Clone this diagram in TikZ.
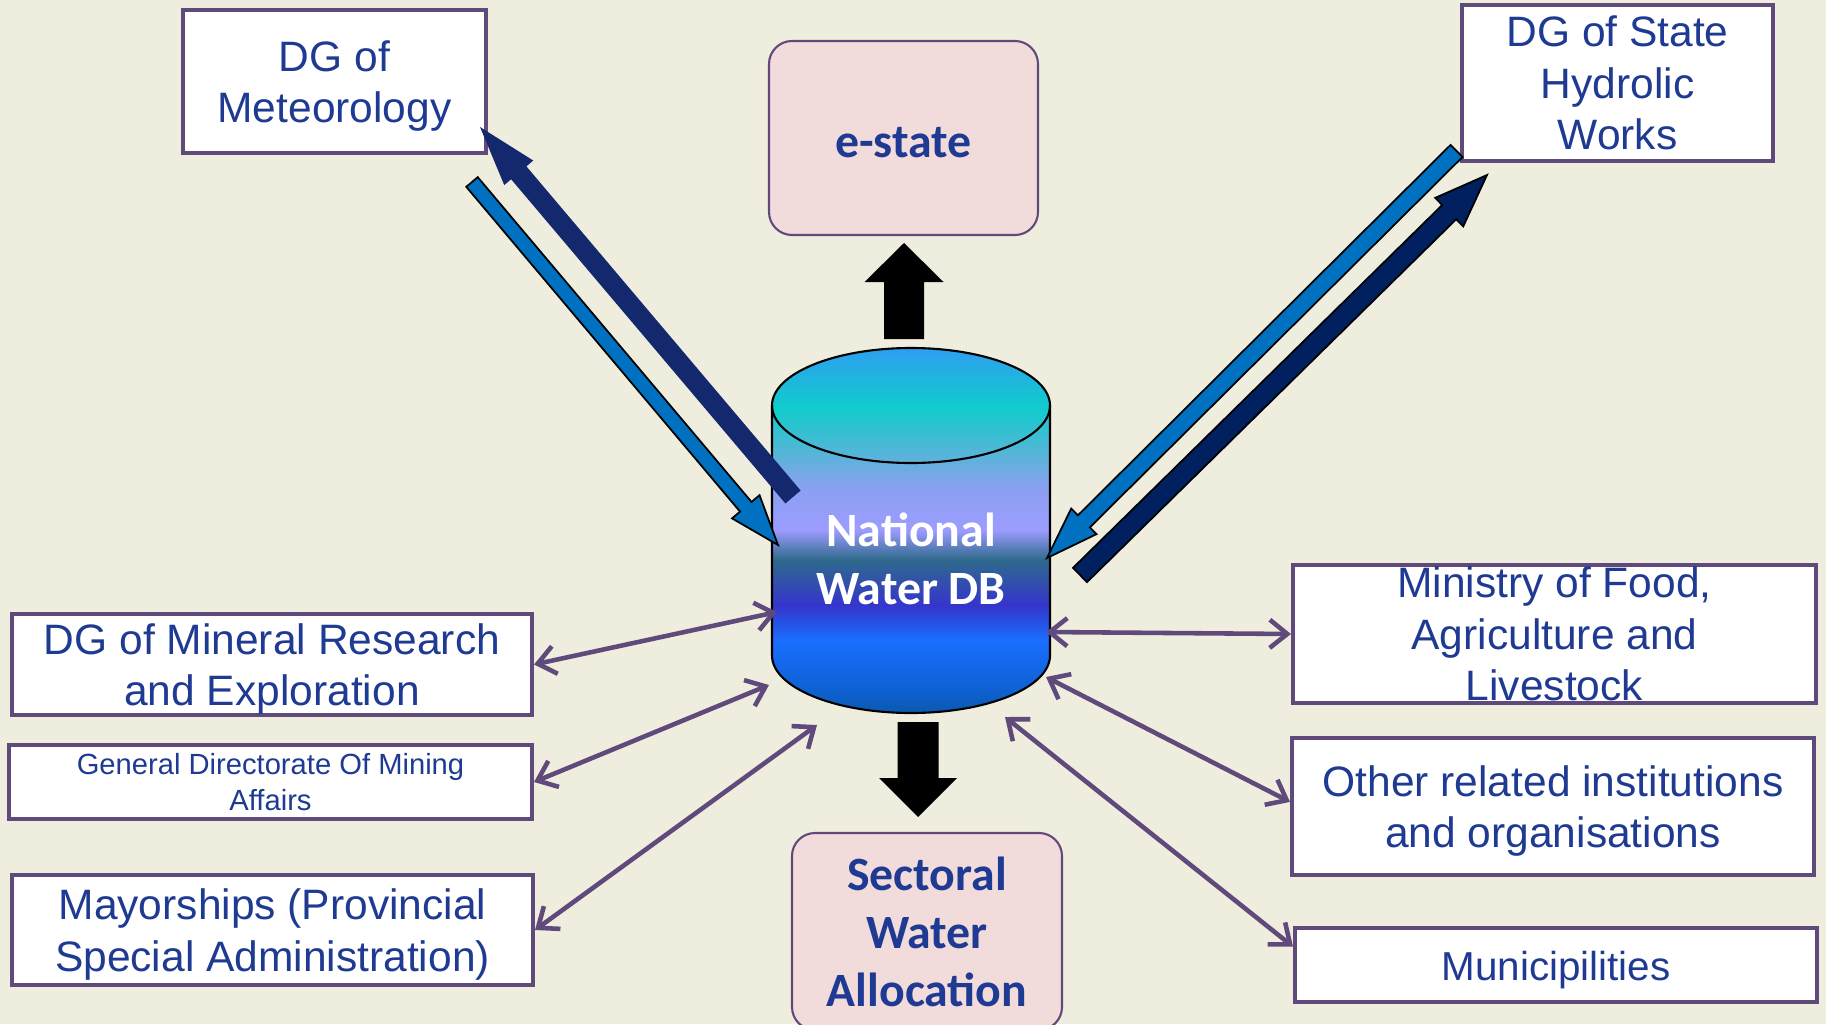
\documentclass[tikz,border=0pt]{standalone}
\usepackage{fontspec}
\setmainfont{Liberation Sans}
\newfontfamily\calibri{Carlito}
\usetikzlibrary{calc,arrows.meta}

\definecolor{bgcol}{RGB}{239,238,222}
\definecolor{boxpurple}{RGB}{96,74,123}
\definecolor{textblue}{RGB}{30,58,146}
\definecolor{outpink}{RGB}{242,220,219}
\definecolor{arrowblue}{RGB}{0,112,192}
\definecolor{arrownavy}{RGB}{0,32,96}
\definecolor{arrowsoft}{RGB}{20,40,110}

% colours of the database drum, bottom to top
\definecolor{dbA}{RGB}{10,90,176}
\definecolor{dbB}{RGB}{15,98,214}
\definecolor{dbC}{RGB}{26,110,255}
\definecolor{dbD}{RGB}{53,53,204}
\definecolor{dbE}{RGB}{47,106,140}
\definecolor{dbF}{RGB}{156,156,255}
\definecolor{dbG}{RGB}{138,160,240}
\definecolor{dbH}{RGB}{85,181,216}
\definecolor{dbI}{RGB}{16,204,204}
\definecolor{dbJ}{RGB}{46,158,240}
\pgfdeclareverticalshading{dbshade}{100bp}{color(0bp)=(dbA); color(25bp)=(dbA);
  color(28.6bp)=(dbB); color(35bp)=(dbC); color(39.8bp)=(dbD); color(46bp)=(dbE);
  color(50.1bp)=(dbF); color(56bp)=(dbG); color(60.6bp)=(dbH); color(66.9bp)=(dbI);
  color(75bp)=(dbJ); color(100bp)=(dbJ)}

% fat arrow: style, from, to, half shaft, half head, head length
\newcommand\bigarrow[6]{%
  \path[#1] ($(#2)!#4!90:(#3)$)
    -- ($(#3)!#6!(#2)!#4!-90:(#2)$)
    -- ($(#3)!#6!(#2)!#5!-90:(#2)$)
    -- (#3)
    -- ($(#3)!#6!(#2)!#5!90:(#2)$)
    -- ($(#3)!#6!(#2)!#4!90:(#2)$)
    -- ($(#2)!#4!-90:(#3)$) -- cycle;}
% taller first line, so the text sits a little lower in its box
\newcommand\lift{\rule{0pt}{11.4pt}}

\begin{document}
\begin{tikzpicture}[x=0.1mm,y=-0.1mm]
\tikzstyle{orgbox}=[draw=boxpurple,line width=1.15pt,fill=white,text=textblue,
  align=center,inner sep=0pt,font=\fontsize{12.1}{14.6}\selectfont]
\tikzstyle{outbox}=[draw=boxpurple,line width=0.6pt,fill=outpink,rounded corners=2.3mm,
  text=textblue,align=center,inner sep=0pt,
  font=\calibri\bfseries\fontsize{13.6}{16.5}\selectfont]
\tikzstyle{link}=[draw=boxpurple,line width=1.3pt,
  {Straight Barb[length=5pt,width=8pt]}-{Straight Barb[length=5pt,width=8pt]}]
\tikzstyle{navyout}=[fill=arrowsoft]
\tikzstyle{navyin}=[fill=arrownavy,draw=black,line width=0.5pt]
\tikzstyle{bluein}=[fill=arrowblue,draw=black,line width=0.5pt]

\useasboundingbox (0,0) rectangle (1826,1024);
\fill[bgcol] (0,0) rectangle (1826,1024);

%% sources and targets
\node[orgbox,minimum width=30.3mm,minimum height=14.3mm] (meteo) at (334.5,81.5)
  {\lift DG of\\Meteorology};
\node[orgbox,minimum width=31.1mm,minimum height=15.6mm] (hydro) at (1617.5,83)
  {DG of State\\Hydrolic\\Works};
\node[outbox,minimum width=26.9mm,minimum height=19.4mm] (estate) at (903.5,138)
  {\rule{0pt}{11pt}e-state};
\node[outbox,minimum width=27mm,minimum height=19.7mm] (sector) at (927,931.5)
  {Sectoral\\Water\\Allocation};

\node[orgbox,minimum width=52mm,minimum height=10.1mm] (mineral) at (272,664.5)
  {\lift DG of Mineral Research\\and Exploration};
\node[orgbox,minimum width=52.3mm,minimum height=7.4mm,
  font=\fontsize{8.3}{10}\selectfont] (mining) at (270.5,782)
  {General Directorate Of Mining\\Affairs};
\node[orgbox,minimum width=52.1mm,minimum height=11mm] (mayor) at (272.5,930)
  {\lift Mayorships (Provincial\\Special Administration)};

\node[orgbox,minimum width=52.3mm,minimum height=13.8mm] (food) at (1554.5,634)
  {Ministry of Food,\\Agriculture and\\Livestock};
\node[orgbox,minimum width=52.2mm,minimum height=13.7mm] (other) at (1553,806.5)
  {\lift Other related institutions\\and organisations};
\node[orgbox,minimum width=52.2mm,minimum height=7.4mm,
  font=\fontsize{11.5}{14}\selectfont] (munic) at (1556,965)
  {\lift Municipilities};

%% the database drum
\path[shading=dbshade] (772,405.5) -- (772,655.5)
  arc[start angle=180,end angle=360,x radius=13.9mm,y radius=5.75mm]
  -- (1050,405.5)
  arc[start angle=0,end angle=180,x radius=13.9mm,y radius=5.75mm] -- cycle;
\draw[line width=0.6pt] (772,405.5) -- (772,655.5)
  arc[start angle=180,end angle=360,x radius=13.9mm,y radius=5.75mm]
  -- (1050,405.5);
\draw[line width=0.6pt] (911,405.5) ellipse[x radius=13.9mm,y radius=5.75mm];
\node[text=white,align=center,font=\calibri\bfseries\fontsize{13.6}{16.3}\selectfont]
  (db) at (911,559) {National\\Water DB};

%% points on the drum
\coordinate (db-mineral) at (777,612);
\coordinate (db-mining) at (769,685);
\coordinate (db-mayor) at (817,725);
\coordinate (db-food) at (1046,632);
\coordinate (db-other) at (1046,677);
\coordinate (db-munic) at (1005,717);

\draw[link] (mineral.east) -- (db-mineral);
\draw[link] (mining.east) -- (db-mining);
\draw[link] (mayor.east) -- (db-mayor);
\draw[link] (db-food) -- (food.west);
\draw[link] (db-other) -- (other.179);
\draw[link] (db-munic) -- (munic.176);

%% fat arrows
\coordinate (up-tail) at (904,339);
\coordinate (up-tip) at (904,243);
\coordinate (down-tail) at (918,722);
\coordinate (down-tip) at (918,817);
\bigarrow{fill=black}{up-tail}{up-tip}{2mm}{3.95mm}{3.9mm}
\bigarrow{fill=black}{down-tail}{down-tip}{2.05mm}{3.9mm}{3.9mm}

\coordinate (meteo-out-tail) at (793,497);
\coordinate (meteo-out-tip) at (480,127);
\coordinate (meteo-in-tail) at (472,182);
\coordinate (meteo-in-tip) at (778,545);
\bigarrow{navyout}{meteo-out-tail}{meteo-out-tip}{1mm}{1.9mm}{6mm}
\bigarrow{bluein}{meteo-in-tail}{meteo-in-tip}{0.75mm}{1.8mm}{5mm}

\coordinate (hydro-in-tail) at (1456.5,151);
\coordinate (hydro-in-tip) at (1047,558);
\coordinate (hydro-out-tail) at (1080,575);
\coordinate (hydro-out-tip) at (1487,175);
\bigarrow{bluein}{hydro-in-tail}{hydro-in-tip}{0.85mm}{1.8mm}{5.2mm}
\bigarrow{navyin}{hydro-out-tail}{hydro-out-tip}{1mm}{2mm}{5.3mm}

\end{tikzpicture}
\end{document}
